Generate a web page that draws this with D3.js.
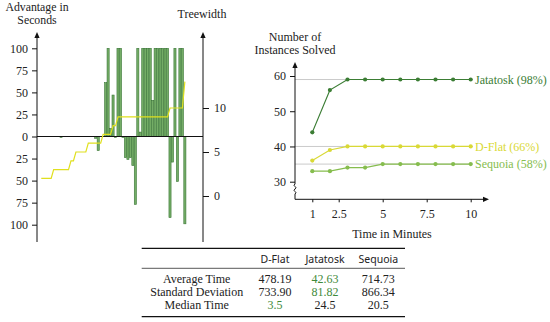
<!DOCTYPE html>
<html><head><meta charset="utf-8">
<script src="https://cdn.jsdelivr.net/npm/d3@7"></script>
<style>
body{margin:0;background:#fff;}
text{font-family:"Liberation Serif","Times New Roman",serif;fill:#222;}
</style></head><body>
<svg id="c" width="550" height="322"></svg>
<script>
// ---- Left chart data (59 instances sorted by treewidth) ----
const advantage = [0,0,0,0,0,0,0,0,-1,0,
  0,0,0,0,0,0,0,0,0,0,
  0,0,-2,-16,0,0,61,100,9,47,
  -1,100,100,-1,-24,-26,-24,-33,-77,100,
  5,100,100,100,100,41,100,100,100,100,
  100,100,-92,-29,100,-51,100,100,-99];
const treewidth = [2,2,2,2,2,3,3,3,3,3,
  3,3,4,4,5,5,5,5,5,6,
  6,6,6,6,6,7,7,7,7,8,
  8,9,9,9,9,9,9,9,9,9,
  9,9,9,9,9,9,9,9,9,9,
  9,9,10,10,10,10,10,10,13];
const advTicks = [-100,-75,-50,-25,0,25,50,75,100];
const twTicks = [0,5,10];

// ---- Right chart data ----
const minutes = [1,2,3,4,5,6,7,8,9,10];
const jatatosk = [44,56,59,59,59,59,59,59,59,59];
const dflat = [36,39,40,40,40,40,40,40,40,40];
const sequoia = [33,33,34,34,35,35,35,35,35,35];
const seriesNames = ["Jatatosk (98%)","D-Flat (66%)","Sequoia (58%)"];
const guideValues = [59,40,35];
const yTicksR = [30,40,50,60];
const xTicksR = [1,2.5,5,7.5,10];

// ---- Table data ----
const tableCols = ["D-Flat","Jatatosk","Sequoia"];
const tableRows = ["Average Time","Standard Deviation","Median Time"];
const tableVals = [["478.19","42.63","714.73"],["733.90","81.82","866.34"],["3.5","24.5","20.5"]];
const tableBest = [[false,true,false],[false,true,false],[true,false,false]];

const svg = d3.select("#c");
const cJ="#3b7d34", cD="#d9d936", cS="#86bd4e";

// ===== Left chart =====
const L = svg.append("g");
const xL = d3.scaleBand().domain(d3.range(advantage.length)).range([40.2, 40.2+advantage.length*2.47]).paddingInner(0.14);
const yL = d3.scaleLinear().domain([-100,100]).range([224.7,48.3]);
const yT = d3.scaleLinear().domain([0,10]).range([196,108]);

L.selectAll("rect.bar").data(advantage.map((v,i)=>({v,i})).filter(d=>d.v!==0)).join("rect")
  .attr("x",d=>xL(d.i)).attr("width",xL.bandwidth())
  .attr("y",d=>yL(Math.max(0,d.v))).attr("height",d=>Math.max(0.8,Math.abs(yL(d.v)-yL(0))))
  .attr("fill","#74ad66").attr("stroke","#3a7637").attr("stroke-width",0.6);

L.append("line").attr("x1",37).attr("x2",203).attr("y1",yL(0)).attr("y2",yL(0)).attr("stroke","#111").attr("stroke-width",1);

L.append("path").datum(treewidth)
  .attr("d",d3.line().x((d,i)=>xL(i)+xL.bandwidth()/2).y(d=>yT(d)))
  .attr("fill","none").attr("stroke","#e0e01e").attr("stroke-width",1.2);

function vAxisLine(g,x,y1,y2){
  g.append("line").attr("x1",x).attr("x2",x).attr("y1",y2).attr("y2",y1+3).attr("stroke","#111");
  g.append("path").attr("d",`M${x},${y1} L${x-2.6},${y1+6} L${x+2.6},${y1+6} Z`).attr("fill","#111");
}
vAxisLine(L,37,32,242);
vAxisLine(L,203,32,242);

const axL = L.append("g").attr("transform","translate(37,0)")
  .call(d3.axisLeft(yL).tickValues(advTicks).tickFormat(d=>Math.abs(d)).tickSize(5).tickPadding(4));
const axR = L.append("g").attr("transform","translate(203,0)")
  .call(d3.axisRight(yT).tickValues(twTicks).tickFormat(d=>d).tickSize(6).tickPadding(5));
[axL,axR].forEach(a=>{a.select(".domain").remove();a.selectAll("text").attr("font-family","Liberation Serif").attr("font-size",12).attr("fill","#222");a.selectAll("line").attr("stroke","#111");});

L.append("text").attr("x",37).attr("y",11).attr("text-anchor","middle").attr("font-size",11.8).text("Advantage in");
L.append("text").attr("x",37).attr("y",24).attr("text-anchor","middle").attr("font-size",11.8).text("Seconds");
L.append("text").attr("x",202).attr("y",18).attr("text-anchor","middle").attr("font-size",12).text("Treewidth");

// ===== Right chart =====
const R = svg.append("g");
const xR = d3.scaleLinear().domain([0,10]).range([294.7,470.7]);
const yR = d3.scaleLinear().domain([30,60]).range([181.7,76]);

R.selectAll("line.guide").data(guideValues).join("line")
  .attr("x1",295).attr("x2",473).attr("y1",d=>yR(d)).attr("y2",d=>yR(d))
  .attr("stroke","#bdbdbd").attr("stroke-width",0.8);

// axes
R.append("line").attr("x1",295).attr("x2",295).attr("y1",66).attr("y2",184).attr("stroke","#111");
R.append("path").attr("d","M295,62 L292.4,68 L297.6,68 Z").attr("fill","#111");
R.append("path").attr("d","M295,184 q-2,1.3 0,2.5 q2,1.3 0,2.5 q-2,1.3 0,2.5 q2,1.3 0,2.5 L295,199.3").attr("fill","none").attr("stroke","#111");
R.append("line").attr("x1",295).attr("x2",485).attr("y1",199.3).attr("y2",199.3).attr("stroke","#111");
R.append("path").attr("d","M489,199.3 L483,196.7 L483,201.9 Z").attr("fill","#111");

const axY = R.append("g").attr("transform","translate(295,0)")
  .call(d3.axisLeft(yR).tickValues(yTicksR).tickFormat(d=>d).tickSize(5).tickPadding(4));
const axX = R.append("g").attr("transform","translate(0,199.3)")
  .call(d3.axisBottom(xR).tickValues(xTicksR).tickFormat(d=>String(d)).tickSize(3).tickPadding(7));
[axY,axX].forEach(a=>{a.select(".domain").remove();a.selectAll("text").attr("font-family","Liberation Serif").attr("font-size",12).attr("fill","#222");a.selectAll("line").attr("stroke","#111");});

const series = [
  {vals:jatatosk,color:cJ,name:seriesNames[0]},
  {vals:dflat,color:cD,name:seriesNames[1]},
  {vals:sequoia,color:cS,name:seriesNames[2]}];
const lineR = d3.line().x((d,i)=>xR(minutes[i])).y(d=>yR(d));
series.forEach(s=>{
  R.append("path").datum(s.vals).attr("d",lineR).attr("fill","none").attr("stroke",s.color).attr("stroke-width",1.2);
  R.selectAll(null).data(s.vals).join("circle")
    .attr("cx",(d,i)=>xR(minutes[i])).attr("cy",d=>yR(d)).attr("r",2.1).attr("fill",s.color);
  R.append("text").attr("x",475).attr("y",yR(s.vals[s.vals.length-1])).attr("dy","0.35em")
    .attr("font-size",12).style("fill",s.color).text(s.name);
});

R.append("text").attr("x",295).attr("y",41).attr("text-anchor","middle").attr("font-size",12).text("Number of");
R.append("text").attr("x",295).attr("y",54).attr("text-anchor","middle").attr("font-size",12).text("Instances Solved");
R.append("text").attr("x",392).attr("y",238).attr("text-anchor","middle").attr("font-size",12).text("Time in Minutes");

// ===== Table =====
const T = svg.append("g");
const colX = [275,325,378.3];
const rowY = [282.7,296,309.3];
T.append("line").attr("x1",141.7).attr("x2",405).attr("y1",248.3).attr("y2",248.3).attr("stroke","#111").attr("stroke-width",1.2);
T.append("line").attr("x1",141.7).attr("x2",405).attr("y1",268.3).attr("y2",268.3).attr("stroke","#111").attr("stroke-width",0.7);
T.append("line").attr("x1",141.7).attr("x2",405).attr("y1",316.7).attr("y2",316.7).attr("stroke","#111").attr("stroke-width",1.2);
T.selectAll("text.h").data(tableCols).join("text")
  .attr("x",(d,i)=>colX[i]).attr("y",262.7).attr("text-anchor","middle")
  .attr("font-size",10.5).style("font-family","'Noto Sans','DejaVu Sans',sans-serif").text(d=>d);
T.selectAll("text.r").data(tableRows).join("text")
  .attr("x",196.7).attr("y",(d,i)=>rowY[i]).attr("text-anchor","middle").attr("font-size",12).text(d=>d);
tableVals.forEach((row,ri)=>{
  row.forEach((v,ci)=>{
    T.append("text").attr("x",colX[ci]).attr("y",rowY[ri]).attr("text-anchor","middle").attr("font-size",12)
      .style("fill",tableBest[ri][ci]?"#3f8a3a":"#222").text(v);
  });
});
</script></body></html>
